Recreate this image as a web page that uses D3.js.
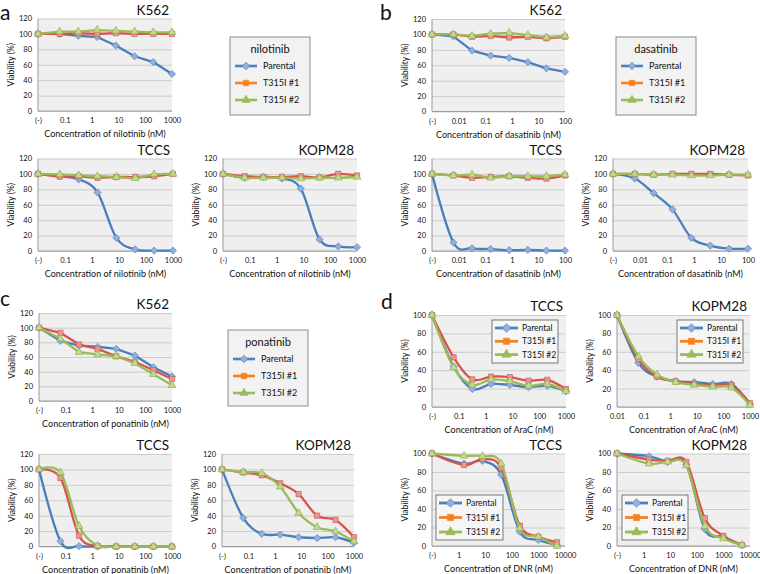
<!DOCTYPE html>
<html><head><meta charset="utf-8">
<script src="https://cdn.jsdelivr.net/npm/d3@7"></script>
<style>
body{margin:0;background:#fff}
svg{display:block}
text{font-family:Lato,"Open Sans","Liberation Sans",sans-serif;fill:#111}
</style>
</head><body>
<svg id="c" width="760" height="574"></svg>
<script>
// ---------- concentrations (first value = untreated "(-)" control, plotted at the axis origin) ----------
const nilX = [0.01, 0.064, 0.32, 1.6, 8, 40, 200, 1000];
const dasX = [0.001, 0.0064, 0.032, 0.16, 0.8, 4, 20, 100];
const ponX = [0.01, 0.064, 0.32, 1.6, 8, 40, 200, 1000];
const araX = [0.01, 0.064, 0.32, 1.6, 8, 40, 200, 1000];
const dnrX = [0.1, 1.6, 8, 40, 200, 1000, 5000];

// ---------- tick labels ----------
const nilTicks = [0.01, 0.1, 1, 10, 100, 1000];
const nilTickLabels = ["(-)", "0.1", "1", "10", "100", "1000"];
const dasTicks = [0.001, 0.01, 0.1, 1, 10, 100];
const dasTickLabels = ["(-)", "0.01", "0.1", "1", "10", "100"];
const araTickLabelsKOPM = ["0.01", "0.1", "1", "10", "100", "1000"];
const dnrTicks = [0.1, 1, 10, 100, 1000, 10000];
const dnrTickLabels = ["(-)", "1", "10", "100", "1000", "10000"];
const seriesNames = ["Parental", "T315I #1", "T315I #2"];

// ---------- viability (%) ----------
const nilK562P  = [100, 100, 97.5, 96, 85, 71, 63.5, 48];
const nilK562T1 = [100, 100, 101, 100, 101, 100, 100, 100];
const nilK562T2 = [100, 103, 103, 105, 104, 103, 102, 102];
const nilTCCSP  = [100, 97, 93, 76, 17, 2, 0.5, 0.5];
const nilTCCST1 = [100, 96.5, 97, 95, 96, 96, 97, 100];
const nilTCCST2 = [100, 99.5, 98, 97, 96, 94.5, 99.5, 100];
const nilKOPMP  = [100, 95, 96, 94, 81, 15, 6, 5];
const nilKOPMT1 = [100, 97, 96, 96, 97, 95.5, 100, 98];
const nilKOPMT2 = [100, 95, 95, 95, 94, 95, 95, 96];

const dasK562P  = [100, 97.5, 79, 72.5, 69.5, 64, 56, 51.5];
const dasK562T1 = [100, 100, 97, 98, 96, 97, 95, 97];
const dasK562T2 = [100, 100, 98, 101, 102, 99, 96, 98];
const dasTCCSP  = [100, 11, 3.5, 2.5, 1, 1.5, 0.5, 0.5];
const dasTCCST1 = [100, 98, 95, 96, 97, 95, 94, 98];
const dasTCCST2 = [100, 98, 99, 95, 97, 97, 97, 99];
const dasKOPMP  = [100, 94, 75, 54, 17, 7, 3, 3];
const dasKOPMT1 = [100, 100, 99, 100, 100, 100, 99, 98];
const dasKOPMT2 = [100, 100, 99, 99, 98, 98, 99, 99];

const ponK562P  = [100, 82, 75.5, 74, 71, 62, 46, 33.5];
const ponK562T1 = [100, 93, 77, 71, 61, 53.5, 42, 30];
const ponK562T2 = [100, 85, 66.5, 63.5, 61, 51.5, 36.5, 21.5];
const ponTCCSP  = [100, 7, 0.5, 0, 0, 0, 0, 0];
const ponTCCST1 = [100, 89, 14, 0.5, 0, 0, 0, 0];
const ponTCCST2 = [100, 96, 26.5, 1, 0, 0, 0, 0];
const ponKOPMP  = [100, 37, 16.5, 15.5, 12, 11, 12, 5];
const ponKOPMT1 = [100, 96, 92.5, 82, 68, 40, 34.5, 12];
const ponKOPMT2 = [100, 96.5, 95, 77.5, 43.5, 25, 19.5, 6.5];

const araTCCSP  = [100, 44, 19.5, 25, 24, 21.5, 23, 17];
const araTCCST1 = [100, 54, 30, 33, 32.5, 28.5, 29.5, 19.5];
const araTCCST2 = [100, 43, 24, 30, 28, 23, 25, 17];
const araKOPMP  = [100, 48, 33, 28, 27, 25, 25, 3];
const araKOPMT1 = [100, 52, 33, 28, 25, 23, 24, 4];
const araKOPMT2 = [100, 55, 35, 27, 24, 22, 21, 2];

const dnrTCCSP  = [100, 89, 92, 77, 15.5, 6.5, 1];
const dnrTCCST1 = [100, 87.5, 94, 84.5, 22, 10, 4];
const dnrTCCST2 = [100, 97.5, 97, 89, 19, 10, 0];
const dnrKOPMP  = [100, 97, 91, 88, 18, 10, 1];
const dnrKOPMT1 = [100, 93.5, 92, 91, 30, 11, 1];
const dnrKOPMT2 = [100, 89, 91, 87, 21.5, 8, 1];

// ---------- styles ----------
const squareDiamond = {draw(ctx, size){ const r = Math.sqrt(size / 2); ctx.moveTo(0, -r); ctx.lineTo(r, 0); ctx.lineTo(0, r); ctx.lineTo(-r, 0); ctx.closePath(); }};
const STY = [
  {line:"#4a7ebb", fill:"#8fb0dc", stroke:"#4a7ebb", sym:squareDiamond, size:26, leg:"#4f81bd"},
  {line:"#d9534a", fill:"#eb9690", stroke:"#c8504a", sym:d3.symbolSquare, size:28, leg:"#f58220"},
  {line:"#9bbb59", fill:"#c2d98a", stroke:"#8aa84c", sym:d3.symbolTriangle, size:26, leg:"#9bbb59"}
];
const svg = d3.select("#c");

function chart(o){
  const g = svg.append("g");
  const x = d3.scaleLog().domain(o.xd).range([o.l, o.r]);
  const y = d3.scaleLinear().domain([0, o.ymax]).range([o.b, o.t]);
  g.append("rect").attr("x", o.l).attr("y", o.t).attr("width", o.r - o.l).attr("height", o.b - o.t).attr("fill", "#efefef");
  const ya = g.append("g").attr("transform", `translate(${o.l},0)`)
    .call(d3.axisLeft(y).tickValues(d3.range(0, o.ymax + 1, 20)).tickSize(-(o.r - o.l)).tickPadding(6));
  ya.select(".domain").remove();
  ya.selectAll(".tick line").attr("stroke", "#c4c4c4").attr("stroke-width", 0.8);
  ya.selectAll(".tick text").attr("font-size", 7.5).attr("font-family", "Lato").attr("fill", "#1a1a1a");
  const xa = g.append("g").attr("transform", `translate(0,${o.b})`)
    .call(d3.axisBottom(x).tickValues(o.xt).tickFormat((d, i) => o.xl[i]).tickSize(0).tickPadding(7));
  xa.select(".domain").remove();
  xa.selectAll(".tick text").attr("font-size", 7.5).attr("font-family", "Lato").attr("fill", "#1a1a1a");
  g.append("line").attr("x1", o.l).attr("x2", o.l).attr("y1", o.t).attr("y2", o.b).attr("stroke", "#9a9a9a");
  g.append("line").attr("x1", o.l).attr("x2", o.r).attr("y1", o.b).attr("y2", o.b).attr("stroke", "#9a9a9a");
  g.append("text").attr("x", o.r - 3).attr("y", o.t - 4).attr("text-anchor", "end").attr("font-size", 13.5).text(o.title);
  g.append("text").attr("x", (o.l + o.r) / 2).attr("y", o.b + 26).attr("text-anchor", "middle").attr("font-size", 9).text(o.xtitle);
  g.append("text").attr("transform", `translate(${o.l - 24},${(o.t + o.b) / 2}) rotate(-90)`).attr("text-anchor", "middle").attr("font-size", 8.5).text("Viability (%)");
  const line = d3.line().x(d => x(d[0])).y(d => y(d[1])).curve(o.smooth ? d3.curveCardinal.tension(0) : d3.curveLinear);
  o.series.forEach((vals, si) => {
    const pts = o.xs.map((xv, i) => [xv, vals[i]]);
    const s = STY[si];
    g.append("path").datum(pts).attr("d", line).attr("fill", "none").attr("stroke", s.line).attr("stroke-width", 2.3).attr("stroke-linejoin", "round");
    g.selectAll(null).data(pts).enter().append("path")
      .attr("transform", d => `translate(${x(d[0])},${y(d[1])})`)
      .attr("d", d3.symbol().type(s.sym).size(s.size)).attr("fill", s.fill).attr("stroke", s.stroke).attr("stroke-width", 0.6);
  });
  if (o.legend) innerLegend(o.legend[0], o.legend[1], o.legend[2], o.legend[3], o.legend[4]);
}

function innerLegend(x0, y0, w, h, gap){
  const g = svg.append("g");
  g.append("rect").attr("x", x0).attr("y", y0).attr("width", w).attr("height", h).attr("fill", "#f6f6f6").attr("stroke", "#5a5a5a").attr("stroke-width", 0.8);
  seriesNames.forEach((n, i) => {
    const yy = y0 + 8 + i * gap;
    const s = STY[i];
    g.append("line").attr("x1", x0 + 3).attr("x2", x0 + 26).attr("y1", yy).attr("y2", yy).attr("stroke", s.leg).attr("stroke-width", 2.8);
    g.append("path").attr("transform", `translate(${x0 + 14.5},${yy})`).attr("d", d3.symbol().type(s.sym).size(38)).attr("fill", i === 0 ? "#8fb0dc" : s.leg).attr("stroke", s.leg).attr("stroke-width", 0.6);
    g.append("text").attr("x", x0 + 30).attr("y", yy + 3).attr("font-size", 8.5).text(n);
  });
}

function sideLegend(x0, y0, w, h, title){
  const g = svg.append("g");
  g.append("rect").attr("x", x0).attr("y", y0).attr("width", w).attr("height", h).attr("fill", "#f2f2f2").attr("stroke", "#8c8c8c");
  g.append("text").attr("x", x0 + w / 2).attr("y", y0 + 16).attr("text-anchor", "middle").attr("font-size", 11).text(title);
  seriesNames.forEach((n, i) => {
    const yy = y0 + 29 + i * 17;
    const s = STY[i];
    g.append("line").attr("x1", x0 + 5).attr("x2", x0 + 27).attr("y1", yy).attr("y2", yy).attr("stroke", s.leg).attr("stroke-width", 2.6);
    g.append("path").attr("transform", `translate(${x0 + 16},${yy})`).attr("d", d3.symbol().type(s.sym).size(30)).attr("fill", i === 0 ? "#8fb0dc" : s.leg).attr("stroke", s.leg).attr("stroke-width", 0.6);
    g.append("text").attr("x", x0 + 33).attr("y", yy + 3).attr("font-size", 9).text(n);
  });
}

function letter(t, x, y){
  svg.append("text").attr("x", x).attr("y", y).attr("font-size", 21).attr("font-family", "Liberation Sans").text(t);
}

// ---------- panel a: nilotinib ----------
letter("a", 0, 20);
chart({l:38, r:172, t:18.5, b:111, ymax:120, xd:[0.01,1000], xt:nilTicks, xl:nilTickLabels, xs:nilX, title:"K562", xtitle:"Concentration of nilotinib (nM)", smooth:false, series:[nilK562P, nilK562T1, nilK562T2]});
sideLegend(230, 37, 80, 78, "nilotinib");
chart({l:38, r:173, t:158.5, b:251, ymax:120, xd:[0.01,1000], xt:nilTicks, xl:nilTickLabels, xs:nilX, title:"TCCS", xtitle:"Concentration of nilotinib (nM)", smooth:true, series:[nilTCCSP, nilTCCST1, nilTCCST2]});
chart({l:223, r:357, t:158.5, b:251, ymax:120, xd:[0.01,1000], xt:nilTicks, xl:nilTickLabels, xs:nilX, title:"KOPM28", xtitle:"Concentration of nilotinib (nM)", smooth:true, series:[nilKOPMP, nilKOPMT1, nilKOPMT2]});

// ---------- panel b: dasatinib ----------
letter("b", 380, 20);
chart({l:432, r:565, t:19, b:111.5, ymax:120, xd:[0.001,100], xt:dasTicks, xl:dasTickLabels, xs:dasX, title:"K562", xtitle:"Concentration of dasatinib (nM)", smooth:false, series:[dasK562P, dasK562T1, dasK562T2]});
sideLegend(616, 37, 80, 78, "dasatinib");
chart({l:432, r:565, t:158.5, b:251, ymax:120, xd:[0.001,100], xt:dasTicks, xl:dasTickLabels, xs:dasX, title:"TCCS", xtitle:"Concentration of dasatinib (nM)", smooth:true, series:[dasTCCSP, dasTCCST1, dasTCCST2]});
chart({l:613, r:748, t:158.5, b:251, ymax:120, xd:[0.001,100], xt:dasTicks, xl:dasTickLabels, xs:dasX, title:"KOPM28", xtitle:"Concentration of dasatinib (nM)", smooth:true, series:[dasKOPMP, dasKOPMT1, dasKOPMT2]});

// ---------- panel c: ponatinib ----------
letter("c", 0, 306);
chart({l:39, r:172, t:313, b:401, ymax:120, xd:[0.01,1000], xt:nilTicks, xl:nilTickLabels, xs:ponX, title:"K562", xtitle:"Concentration of ponatinib (nM)", smooth:false, series:[ponK562P, ponK562T1, ponK562T2]});
sideLegend(228, 330, 80, 76, "ponatinib");
chart({l:39, r:172, t:454, b:546.5, ymax:120, xd:[0.01,1000], xt:nilTicks, xl:nilTickLabels, xs:ponX, title:"TCCS", xtitle:"Concentration of ponatinib (nM)", smooth:true, series:[ponTCCSP, ponTCCST1, ponTCCST2]});
chart({l:222, r:354, t:454, b:546.5, ymax:120, xd:[0.01,1000], xt:nilTicks, xl:nilTickLabels, xs:ponX, title:"KOPM28", xtitle:"Concentration of ponatinib (nM)", smooth:true, series:[ponKOPMP, ponKOPMT1, ponKOPMT2]});

// ---------- panel d: AraC and DNR ----------
letter("d", 381, 309);
chart({l:432, r:566, t:315, b:407, ymax:100, xd:[0.01,1000], xt:nilTicks, xl:nilTickLabels, xs:araX, title:"TCCS", xtitle:"Concentration of AraC (nM)", smooth:true, series:[araTCCSP, araTCCST1, araTCCST2], legend:[492, 320, 66, 43, 13.3]});
chart({l:617, r:750, t:315, b:407, ymax:100, xd:[0.01,1000], xt:nilTicks, xl:araTickLabelsKOPM, xs:araX, title:"KOPM28", xtitle:"Concentration of AraC (nM)", smooth:true, series:[araKOPMP, araKOPMT1, araKOPMT2], legend:[677, 320, 66, 43, 13.3]});
chart({l:432, r:565, t:453.5, b:546, ymax:100, xd:[0.1,10000], xt:dnrTicks, xl:dnrTickLabels, xs:dnrX, title:"TCCS", xtitle:"Concentration of DNR (nM)", smooth:true, series:[dnrTCCSP, dnrTCCST1, dnrTCCST2], legend:[436, 495, 67, 45, 14.5]});
chart({l:617, r:750, t:453.5, b:546, ymax:100, xd:[0.1,10000], xt:dnrTicks, xl:dnrTickLabels, xs:dnrX, title:"KOPM28", xtitle:"Concentration of DNR (nM)", smooth:true, series:[dnrKOPMP, dnrKOPMT1, dnrKOPMT2], legend:[622, 495, 66, 45, 14.5]});
</script>
</body></html>
